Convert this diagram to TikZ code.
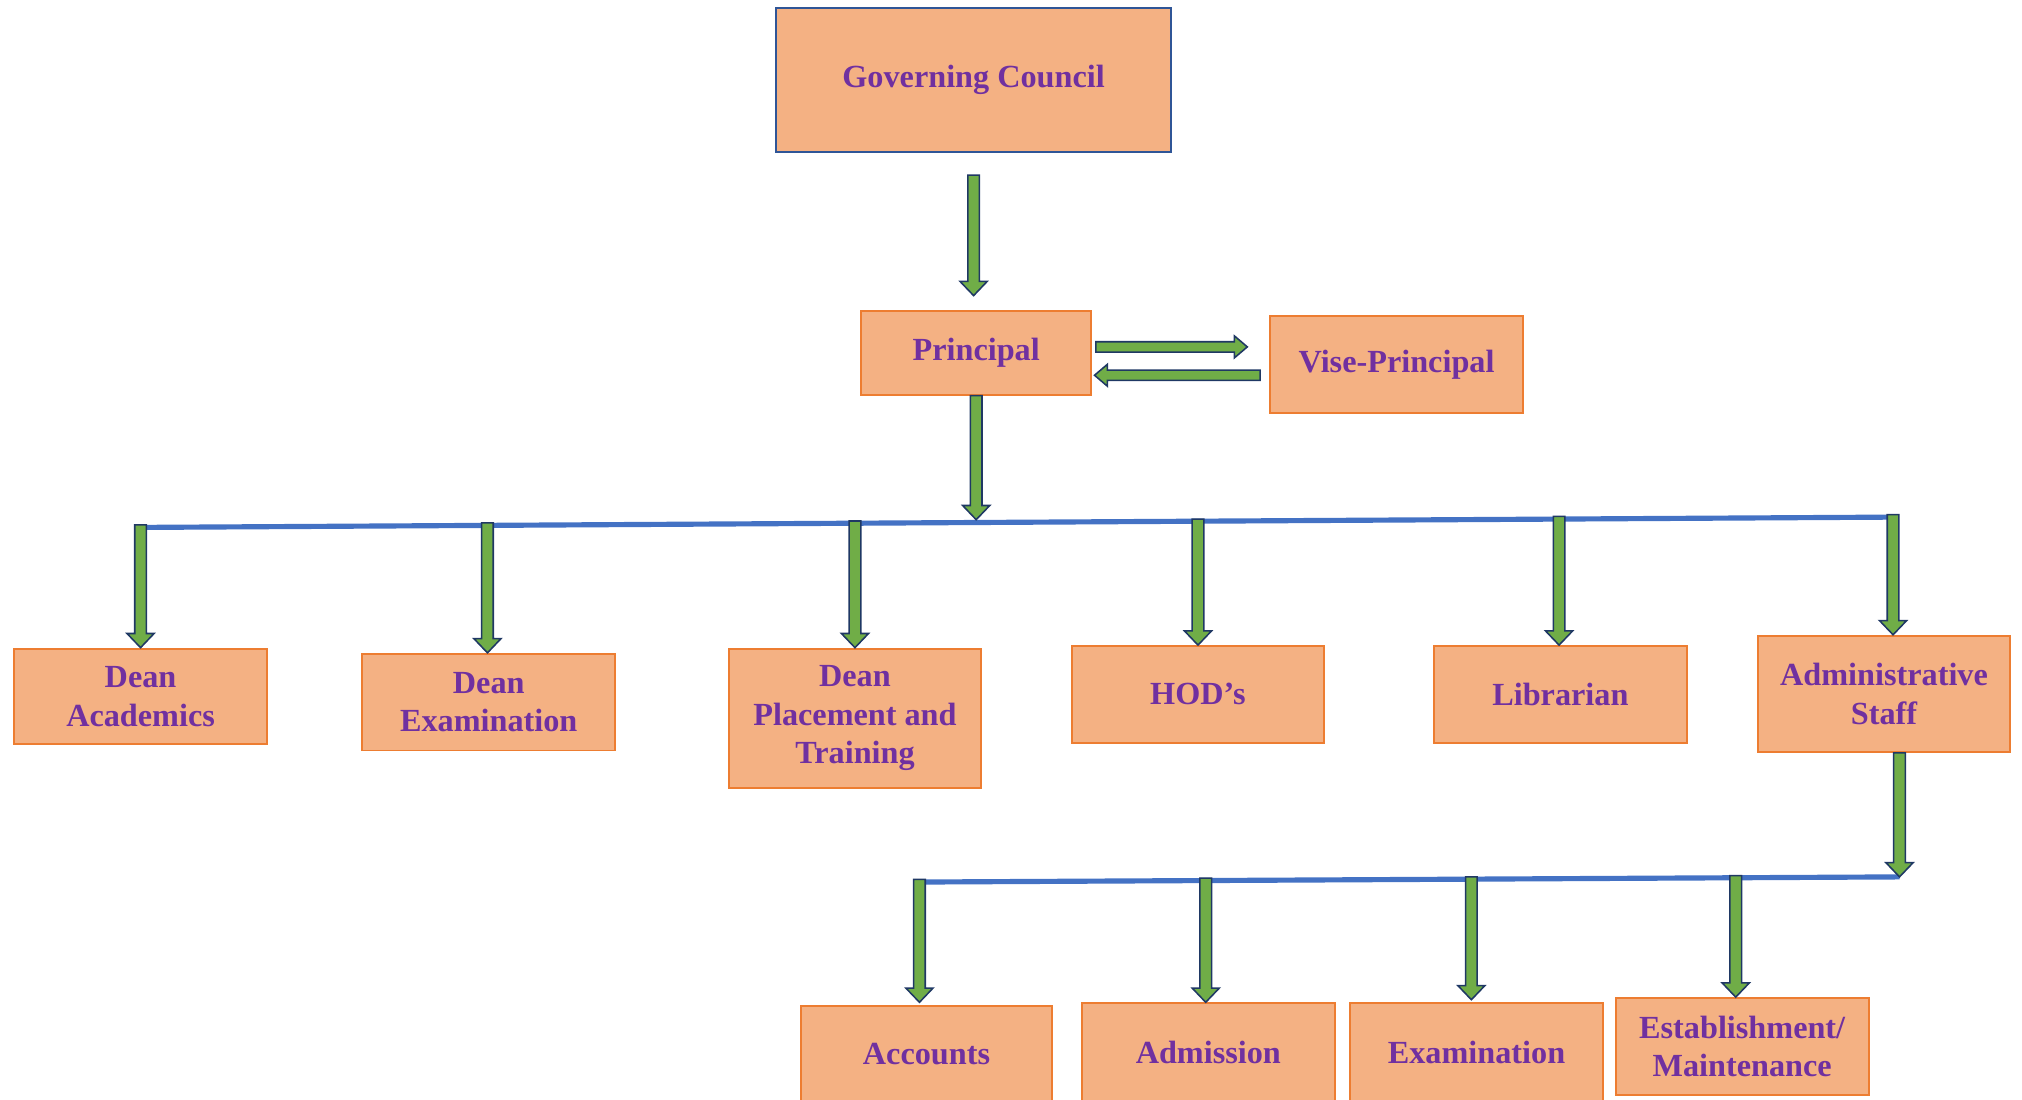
\documentclass[tikz,border=0pt]{standalone}
\usepackage{fontspec}
\setmainfont{Liberation Serif}
\usetikzlibrary{calc}

\definecolor{boxfill}{RGB}{244,177,131}
\definecolor{boxline}{RGB}{237,125,49}
\definecolor{gcline}{RGB}{47,85,151}
\definecolor{txt}{RGB}{112,48,160}
\definecolor{arrowfill}{RGB}{112,173,71}
\definecolor{arrowline}{RGB}{31,56,100}
\definecolor{barline}{RGB}{68,114,196}

% block arrow going down from #1 to the height of #2
\newcommand{\vblock}[2]{%
  \draw[blockarrow] let \p1=#1, \p2=#2 in
    (\x1-4.5pt,\y1) -- (\x1-4.5pt,\y2+11pt) -- (\x1-10.5pt,\y2+11pt) -- (\x1,\y2)
    -- (\x1+10.5pt,\y2+11pt) -- (\x1+4.5pt,\y2+11pt) -- (\x1+4.5pt,\y1) -- cycle;}
% block arrows going right / left from #1 to the x of #2
\newcommand{\rblock}[2]{%
  \draw[blockarrow] let \p1=#1, \p2=#2 in
    (\x1,\y1+4pt) -- (\x2-10pt,\y1+4pt) -- (\x2-10pt,\y1+8.5pt) -- (\x2,\y1)
    -- (\x2-10pt,\y1-8.5pt) -- (\x2-10pt,\y1-4pt) -- (\x1,\y1-4pt) -- cycle;}
\newcommand{\lblock}[2]{%
  \draw[blockarrow] let \p1=#1, \p2=#2 in
    (\x1,\y1+4pt) -- (\x2+10pt,\y1+4pt) -- (\x2+10pt,\y1+8.5pt) -- (\x2,\y1)
    -- (\x2+10pt,\y1-8.5pt) -- (\x2+10pt,\y1-4pt) -- (\x1,\y1-4pt) -- cycle;}

\begin{document}
\begin{tikzpicture}[x=1pt,y=-1pt,
  box/.style={draw=boxline,fill=boxfill,line width=1.5pt,text=txt,
    font=\bfseries\fontsize{25}{30}\selectfont,align=center,inner sep=0pt,
    minimum width=196pt,minimum height=75pt},
  blockarrow/.style={draw=arrowline,fill=arrowfill,line width=1.2pt,line join=miter},
  bar/.style={draw=barline,line width=4pt}]
\useasboundingbox (0,0) rectangle (1568,853);

% top of the chart
\node[box,draw=gcline,minimum width=306pt,minimum height=112pt] (gc) at (755,62) {Governing Council};
\node[box,minimum width=178pt,minimum height=65pt] (principal) at (757,273.5) {Principal};
\node[box] (vp) at (1083,282.5) {Vise-Principal};

% second row
\node[box,minimum height=74pt] (da) at (109,540) {Dean\\Academics};
\node[box] (de) at (379,544.5) {Dean\\Examination};
\node[box,minimum height=108pt] (dpt) at (663,557) {Dean\\Placement and\\Training};
\node[box] (hod) at (929,538.5) {HOD’s};
\node[box] (lib) at (1210,538.5) {Librarian};
\node[box,minimum height=90pt] (adm) at (1461,538) {Administrative\\Staff};

% third row
\node[box,minimum width=195pt] (acc) at (718.5,817.5) {Accounts};
\node[box,minimum height=77pt] (admission) at (937,816.5) {Admission};
\node[box,minimum height=77pt] (exam) at (1145,816.5) {Examination};
\node[box] (est) at (1351,811.5) {Establishment/\\Maintenance};

% points on the bars
\coordinate (pb) at (757,403);
\coordinate (b1) at (109,407);
\coordinate (b2) at (378,405.5);
\coordinate (b3) at (663,404);
\coordinate (b4) at (929,402.5);
\coordinate (b5) at (1209,400.5);
\coordinate (b6) at (1468,399);
\coordinate (cb) at (1473,680);
\coordinate (c1) at (713,682);
\coordinate (c2) at (935,681);
\coordinate (c3) at (1141,680);
\coordinate (c4) at (1346,679);

\draw[bar] ($(b1)+(0,2)$) -- ($(b6)+(0,2)$);
\draw[bar] ($(c1)+(0,2)$) -- (cb);

\vblock{($(gc.south)+(0,17)$)}{($(principal.north)+(0,-11)$)}
\rblock{($(principal.east)+(3,-4.5)$)}{($(vp.west)+(-17,0)$)}
\lblock{($(vp.west)+(-7,8.5)$)}{($(principal.east)+(2,0)$)}
\vblock{(principal.south)}{(pb)}

\vblock{(b1)}{(da.north)}
\vblock{(b2)}{(de.north)}
\vblock{(b3)}{(dpt.north)}
\vblock{(b4)}{(hod.north)}
\vblock{(b5)}{(lib.north)}
\vblock{(b6)}{(adm.north)}

\vblock{(cb |- adm.south)}{(cb)}
\vblock{(c1)}{($(acc.north)+(0,-2)$)}
\vblock{(c2)}{(admission.north)}
\vblock{(c3)}{($(exam.north)+(0,-2)$)}
\vblock{(c4)}{(est.north)}
\end{tikzpicture}
\end{document}
